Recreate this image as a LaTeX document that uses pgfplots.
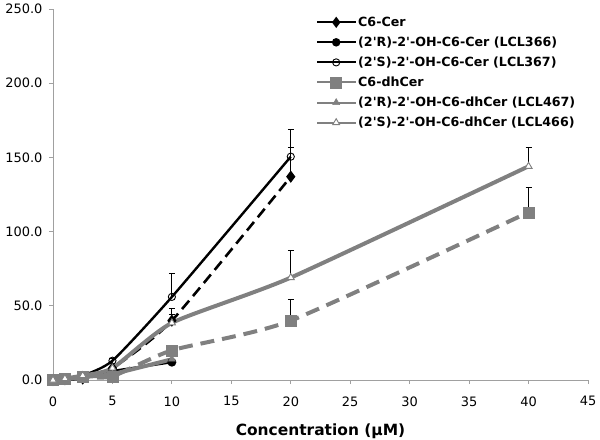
\documentclass[border=0pt]{standalone}
\usepackage{pgfplots}
\pgfplotsset{compat=1.18}
\usepackage{fontspec}
\setmainfont{DejaVu Sans}
\newcommand{\q}{\textquotesingle}
\definecolor{mygray}{RGB}{128,128,128}
\definecolor{axgray}{RGB}{160,160,160}
\pgfplotsset{eb/.style={error bars/y dir=plus, error bars/y explicit,
  error bars/error bar style={black, line width=0.8bp, solid},
  error bars/error mark options={black, mark size=3bp, line width=0.8bp, solid, rotate=90}}}
\begin{document}
\begin{tikzpicture}
\begin{axis}[
  name=ax,
  scale only axis,
  width=535bp, height=371bp,
  xmin=0, xmax=45, ymin=0, ymax=250,
  xtick={0,5,...,45}, ytick={0,50,...,250},
  axis x line*=bottom, axis y line*=left,
  axis line style={axgray, line width=0.8bp},
  tick style={axgray, line width=0.8bp},
  tick align=outside, major tick length=4bp,
  every tick label/.append style={font=\fontsize{13}{15}\selectfont, black},
  /pgf/number format/assume math mode=true,
  yticklabel style={xshift=-3bp, /pgf/number format/fixed, /pgf/number format/fixed zerofill, /pgf/number format/precision=1},
  xticklabel style={yshift=-9bp, /pgf/number format/fixed, /pgf/number format/precision=0},
  xlabel={\fontsize{15.5}{17}\selectfont\bfseries Concentration (µM)},
  xlabel style={yshift=-11bp},
  clip=false,
  legend style={draw=none, fill=none, at={(0.486,0.99)}, anchor=north west,
    font=\fontsize{12.7}{14.5}\selectfont\bfseries, row sep=5bp,
    legend cell align=left},
  legend image code/.code={\draw[mark repeat=2,mark phase=2,#1,solid,line width=2bp] plot coordinates {(0bp,0bp) (19bp,0bp) (38bp,0bp)};},
]
% C6-Cer
\addplot[eb, black, line width=2.6bp, dash pattern=on 11bp off 6bp, smooth, tension=0.35, mark=diamond*, mark size=4bp, mark options={solid}]
 table[y error=e]{
x y e
0 0 0.3
1 0.5 0.3
2.5 1 0.5
5 8 1
10 40 4
20 137 20
};
\addlegendentry{C6-Cer}
% LCL366
\addplot[eb, black, line width=2.4bp, smooth, tension=0.35, mark=*, mark size=3.2bp, mark options={solid}]
 table[y error=e]{
x y e
0 0 0.3
1 0.5 0.3
2.5 2 0.5
5 6 1
10 12 2
};
\addlegendentry{(2\q R)-2\q-OH-C6-Cer (LCL366)}
% LCL367
\addplot[eb, black, line width=2.4bp, smooth, tension=0.35, mark=*, mark size=3.6bp, mark options={solid, fill=white, fill opacity=0, line width=0.9bp}]
 table[y error=e]{
x y e
0 0 0.3
1 1 0.3
2.5 3 0.5
5 13 1.5
10 56 15.5
20 150.5 18.5
};
\addlegendentry{(2\q S)-2\q-OH-C6-Cer (LCL367)}
% C6-dhCer
\addplot[eb, mygray, line width=4bp, dash pattern=on 14bp off 8bp, smooth, tension=0.35, mark=square*, mark size=5.5bp, mark options={solid, line width=0.5bp}]
 table[y error=e]{
x y e
0 0 0.3
1 1 0.3
2.5 2 0.5
5 2.5 1
10 20 2
20 40 14
40 113 17
};
\addlegendentry{C6-dhCer}
% LCL467
\addplot[eb, mygray, line width=4bp, smooth, tension=0.35, mark=triangle*, mark size=4bp, mark options={solid, line width=0.5bp}]
 table[y error=e]{
x y e
0 0 0.3
1 0.5 0.3
2.5 2 0.5
5 4 1
10 14 2
};
\addlegendentry{(2\q R)-2\q-OH-C6-dhCer (LCL467)}
% LCL466
\addplot[eb, mygray, line width=4bp, smooth, tension=0.35, mark=triangle*, mark size=4bp, mark options={solid, fill=white, line width=0.9bp}]
 table[y error=e]{
x y e
0 0 0.3
1 1 0.3
2.5 3 0.5
5 8 1
10 38.5 9.5
20 69 18
40 144 13
};
\addlegendentry{(2\q S)-2\q-OH-C6-dhCer (LCL466)}
\end{axis}
\pgfresetboundingbox
\path ([shift={(-53bp,-60bp)}]ax.south west) rectangle ([shift={(12bp,9bp)}]ax.north east);
\end{tikzpicture}
\end{document}
